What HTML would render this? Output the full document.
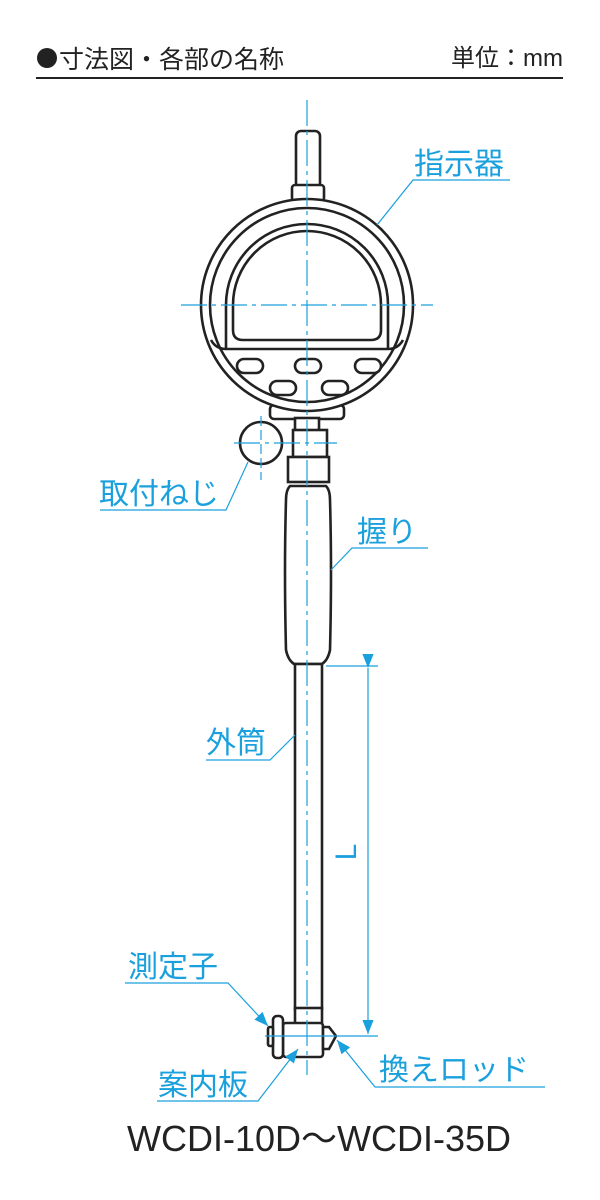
<!DOCTYPE html>
<html><head><meta charset="utf-8"><style>
html,body{margin:0;padding:0;background:#fff}
svg{display:block}
.t{font-family:"Liberation Sans","Noto Sans CJK JP",sans-serif}
.c{fill:#1aa0dc;font-family:"Liberation Sans","Noto Sans CJK JP",sans-serif;font-size:30px}
</style></head><body>
<svg width="600" height="1200" viewBox="0 0 600 1200" xmlns="http://www.w3.org/2000/svg">
<defs>
<marker id="b" viewBox="0 0 10 10" markerWidth="14" markerHeight="14" refX="10" refY="5" orient="auto" markerUnits="userSpaceOnUse"><path d="M0,1 L10,5 L0,9 Z" fill="#1aa0dc"/></marker></defs>
<circle cx="47" cy="58" r="10" fill="#222"/>
<text class="t" x="59" y="68" font-size="25" fill="#222">寸法図・各部の名称</text>
<text class="t" x="563" y="66" font-size="24" fill="#222" text-anchor="end">単位：mm</text>
<line x1="36" y1="78" x2="563" y2="78" stroke="#222" stroke-width="2"/>
<g fill="#fff" stroke="#222" stroke-width="2.6">
<rect x="296" y="131" width="24" height="60" rx="5"/>
<rect x="292" y="185" width="32" height="16" rx="3"/>
<rect x="270" y="405" width="74" height="14" rx="4"/>
<circle cx="307" cy="305" r="106"/>
<circle cx="307" cy="305" r="97"/>
<path d="M211,340 Q216,349 226,349 L388,349 Q398,349 403,340" fill="none"/>
<path d="M226,349 L226,305 A81,81 0 0 1 388,305 L388,349" fill="none"/>
<path d="M233,330 L233,305 A74,74 0 0 1 381,305 L381,330 Q381,340 371,340 L243,340 Q233,340 233,330 Z" fill="none"/>
<rect x="237" y="359" width="26" height="14" rx="7"/>
<rect x="295" y="359" width="26" height="14" rx="7"/>
<rect x="355" y="359" width="26" height="14" rx="7"/>
<rect x="270" y="381" width="26" height="14" rx="7"/>
<rect x="322" y="381" width="26" height="14" rx="7"/>
<rect x="295" y="418" width="24" height="14"/>
<rect x="293" y="430" width="34" height="27"/>
<circle cx="261" cy="443" r="21"/>
<rect x="288" y="457" width="41" height="25"/>
<path d="M290,486 Q286,490 286,500 Q284,570 286,650 Q288,660 294,664 L322,664 Q328,660 330,650 Q332,570 330,500 Q330,490 326,486 Z"/>
<rect x="295" y="664" width="27" height="345"/>
<rect x="295" y="1008" width="27" height="16"/>
<rect x="283" y="1023" width="40" height="34" rx="3"/>
<rect x="273" y="1016" width="10" height="42" rx="4"/>
<rect x="268" y="1027" width="5" height="19" rx="2"/>
<path d="M323,1027 L329,1027 L336,1036 L329,1049 L323,1049 Z"/>
</g>
<g stroke="#1aa0dc" stroke-width="1.2" fill="none">
<line x1="307" y1="100" x2="307" y2="1075" stroke-dasharray="26,5,4,5"/>
<line x1="181" y1="305" x2="433" y2="305" stroke-dasharray="26,5,4,5"/>
<line x1="234" y1="443" x2="337" y2="443" stroke-dasharray="26,5,4,5"/>
<line x1="261" y1="416" x2="261" y2="480" stroke-dasharray="10,4"/>
<line x1="265" y1="1036" x2="378" y2="1036"/>
<line x1="326" y1="666" x2="378" y2="666"/>
<line x1="368" y1="668" x2="368" y2="1034" marker-start="url(#b)" marker-end="url(#b)"/>
<polyline points="510,180 413,180 377,225"/>
<polyline points="100,510 226,510 248,462"/>
<polyline points="428,548 352,548 331,570"/>
<polyline points="206,760 270,760 295,735"/>
<polyline points="125,983 228,983 268,1026" marker-end="url(#b)"/>
<polyline points="157,1101 258,1101 298,1049" marker-end="url(#b)"/>
<polyline points="545,1087 375,1087 337,1040" marker-end="url(#b)"/>
</g>
<text class="c" x="414" y="174">指示器</text>
<text class="c" x="99" y="504">取付ねじ</text>
<text class="c" x="357" y="542">握り</text>
<text class="c" x="206" y="753">外筒</text>
<text class="c" x="128" y="977">測定子</text>
<text class="c" x="158" y="1095">案内板</text>
<text class="c" x="379" y="1080">換えロッド</text>
<text class="c" x="0" y="0" transform="translate(356,852) rotate(-90)" text-anchor="middle">L</text>
<text class="t" x="319" y="1151" font-size="36" fill="#222" text-anchor="middle">WCDI-10D～WCDI-35D</text>
</svg>
</body></html>
